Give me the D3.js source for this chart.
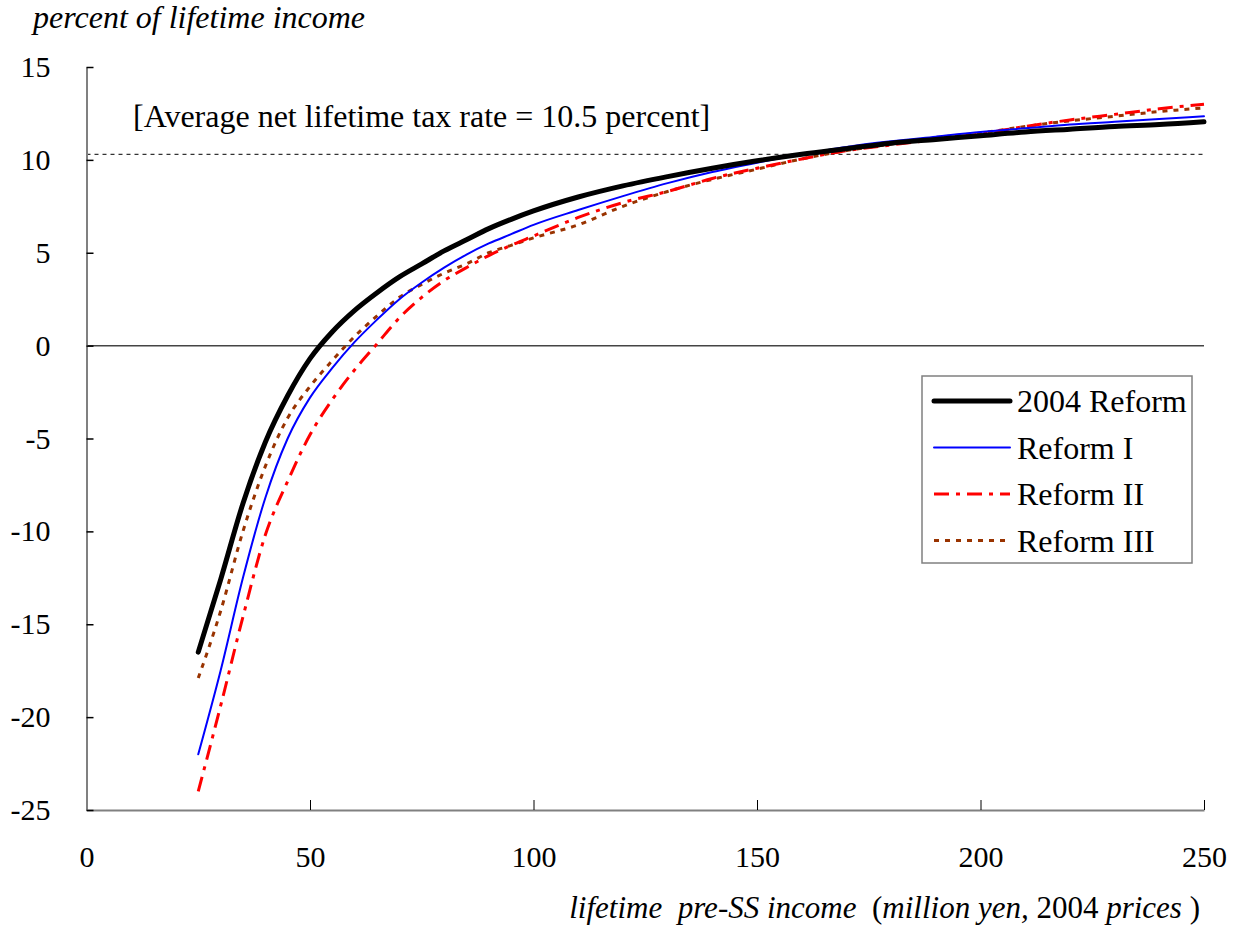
<!DOCTYPE html>
<html lang="en">
<head>
  <meta charset="utf-8">
  <title>Net lifetime tax rates</title>
  <script src="https://d3js.org/d3.v7.min.js"></script>
  <style>
    body { margin: 0; background: #fff; }
    #chart text { font-family: "Liberation Serif", "Times New Roman", serif; fill: #000; }
  </style>
</head>
<body>
  <div id="chart"></div>

  <script type="text/javascript">
    "use strict"

    // lifetime pre-SS income (million yen, 2004 prices)
    var income = [25, 30, 35, 40, 45, 50, 55, 60, 65, 70, 75, 80, 85, 90, 95, 100,
                  110, 120, 130, 140, 150, 160, 170, 180, 190, 200, 210, 220, 230, 240, 250];

    // net lifetime tax rate, percent of lifetime income
    var reform2004 = [-16.5, -12.6, -8.5, -5.2, -2.7, -0.7, 0.75, 1.9, 2.85, 3.7, 4.4, 5.1, 5.7, 6.3, 6.8, 7.25,
                      8.0, 8.6, 9.1, 9.55, 9.95, 10.3, 10.6, 10.9, 11.1, 11.3, 11.5, 11.65, 11.8, 11.9, 12.05];
    var reformI    = [-22.0, -17.5, -12.5, -8.2, -5.0, -2.8, -1.2, 0.2, 1.4, 2.5, 3.4, 4.2, 4.9, 5.5, 6.0, 6.5,
                      7.3, 8.05, 8.75, 9.35, 9.85, 10.3, 10.7, 11.0, 11.25, 11.5, 11.7, 11.9, 12.05, 12.2, 12.35];
    var reformII   = [-24.0, -19.4, -14.6, -10.2, -7.3, -4.8, -2.9, -1.3, 0.1, 1.5, 2.6, 3.5, 4.2, 4.85, 5.4, 5.9,
                      6.9, 7.7, 8.3, 9.0, 9.55, 10.05, 10.5, 10.8, 11.1, 11.4, 11.8, 12.15, 12.45, 12.75, 13.0];
    var reformIII  = [-17.9, -14.3, -10.0, -6.5, -3.9, -2.2, -0.8, 0.5, 1.6, 2.6, 3.3, 3.9, 4.4, 5.0, 5.4, 5.8,
                      6.5, 7.5, 8.3, 8.95, 9.5, 10.05, 10.5, 10.85, 11.2, 11.45, 11.8, 12.1, 12.35, 12.6, 12.8];

    var avgRate = 10.3; // where the dashed reference line sits
    var xTicks = [0, 50, 100, 150, 200, 250];
    var yTicks = [15, 10, 5, 0, -5, -10, -15, -20, -25];

    var series = [
      {nome: "2004 Reform", valores: reform2004, cor: "#000000", largura: 5,   dash: null},
      {nome: "Reform I",    valores: reformI,    cor: "#0000ff", largura: 2,   dash: null},
      {nome: "Reform II",   valores: reformII,   cor: "#ff0000", largura: 3,   dash: "15,7,4,7"},
      {nome: "Reform III",  valores: reformIII,  cor: "#993300", largura: 3,   dash: "5,6"}
    ];

    var larguraSVG = 1236, alturaSVG = 931;
    var margin = {top: 67, right: 32, bottom: 121, left: 86.5},
        larguraVis = larguraSVG - margin.left - margin.right,
        alturaVis = alturaSVG - margin.top - margin.bottom;

    var svg = d3.select('#chart')
      .append('svg')
        .attr('width', larguraSVG)
        .attr('height', alturaSVG);

    var grafico = svg.append('g')
        .attr('transform', 'translate(' + margin.left + ',' + margin.top + ')');

    // escalas
    var x = d3.scaleLinear().domain([0, 250]).range([0, larguraVis]);
    var y = d3.scaleLinear().domain([-25, 15]).range([alturaVis, 0]);

    // linha tracejada da taxa media
    grafico.append('line')
      .attr('x1', x(0)).attr('x2', x(250))
      .attr('y1', y(avgRate)).attr('y2', y(avgRate))
      .attr('stroke', '#000').attr('stroke-width', 1)
      .attr('stroke-dasharray', '4,4');

    // linha do zero
    grafico.append('line')
      .attr('x1', x(0)).attr('x2', x(250))
      .attr('y1', y(0)).attr('y2', y(0))
      .attr('stroke', '#444').attr('stroke-width', 1.5);

    // eixos (hifen simples no sinal negativo, como no original)
    var fmt = function (d) { return String(d); };

    var eixoX = grafico.append('g')
      .attr('transform', 'translate(0,' + alturaVis + ')')
      .call(d3.axisBottom(x).tickValues(xTicks).tickFormat(fmt).tickSizeInner(-10).tickSizeOuter(0).tickPadding(36));
    eixoX.select('.domain').attr('stroke', '#808080').attr('stroke-width', 2);
    eixoX.selectAll('.tick line').attr('stroke', '#000').attr('stroke-width', 1);
    eixoX.selectAll('text').style('font-size', '30px');

    var eixoY = grafico.append('g')
      .call(d3.axisLeft(y).tickValues(yTicks).tickFormat(fmt).tickSizeInner(-7).tickSizeOuter(0).tickPadding(36));
    eixoY.select('.domain').attr('stroke', '#808080').attr('stroke-width', 2);
    eixoY.selectAll('.tick line').attr('stroke', '#000').attr('stroke-width', 1.5);
    eixoY.selectAll('text').style('font-size', '30px');

    // curvas
    var linha = function (valores) {
      return d3.line()
        .x(function (d, i) { return x(income[i]); })
        .y(function (d) { return y(d); })
        .curve(d3.curveMonotoneX)(valores);
    };

    // desenha de tras pra frente, preto por cima
    series.slice().reverse().forEach(function (s) {
      grafico.append('path')
        .attr('d', linha(s.valores))
        .attr('fill', 'none')
        .attr('stroke', s.cor)
        .attr('stroke-width', s.largura)
        .attr('stroke-linecap', s.dash ? 'butt' : 'round')
        .attr('stroke-dasharray', s.dash);
    });

    // anotacao
    svg.append('text')
      .attr('x', 133).attr('y', 127)
      .style('font-size', '32px')
      .text('[Average net lifetime tax rate = 10.5 percent]');

    // titulo do eixo y
    svg.append('text')
      .attr('x', 33).attr('y', 28)
      .style('font-size', '32px')
      .style('font-style', 'italic')
      .text('percent of lifetime income');

    // titulo do eixo x (partes em italico)
    var tx = svg.append('text')
      .attr('x', 1200).attr('y', 918)
      .attr('text-anchor', 'end')
      .style('font-size', '31px')
      .attr('xml:space', 'preserve');
    tx.append('tspan').style('font-style', 'italic').text('lifetime  pre-SS income  ');
    tx.append('tspan').text('(');
    tx.append('tspan').style('font-style', 'italic').text('million yen, ');
    tx.append('tspan').text('2004 ');
    tx.append('tspan').style('font-style', 'italic').text('prices ');
    tx.append('tspan').text(')');

    // legenda
    var legenda = svg.append('g').attr('transform', 'translate(922,376)');
    legenda.append('rect')
      .attr('width', 270).attr('height', 187)
      .attr('fill', '#fff').attr('stroke', '#808080').attr('stroke-width', 1.5);

    series.forEach(function (s, i) {
      var ly = 25 + i * 46.5;
      legenda.append('line')
        .attr('x1', 12).attr('x2', 88)
        .attr('y1', ly).attr('y2', ly)
        .attr('stroke', s.cor)
        .attr('stroke-width', s.largura)
        .attr('stroke-linecap', s.dash ? 'butt' : 'round')
        .attr('stroke-dasharray', s.dash);
      legenda.append('text')
        .attr('x', 95).attr('y', ly + 11)
        .style('font-size', '32px')
        .text(s.nome);
    });
  </script>
</body>
</html>
